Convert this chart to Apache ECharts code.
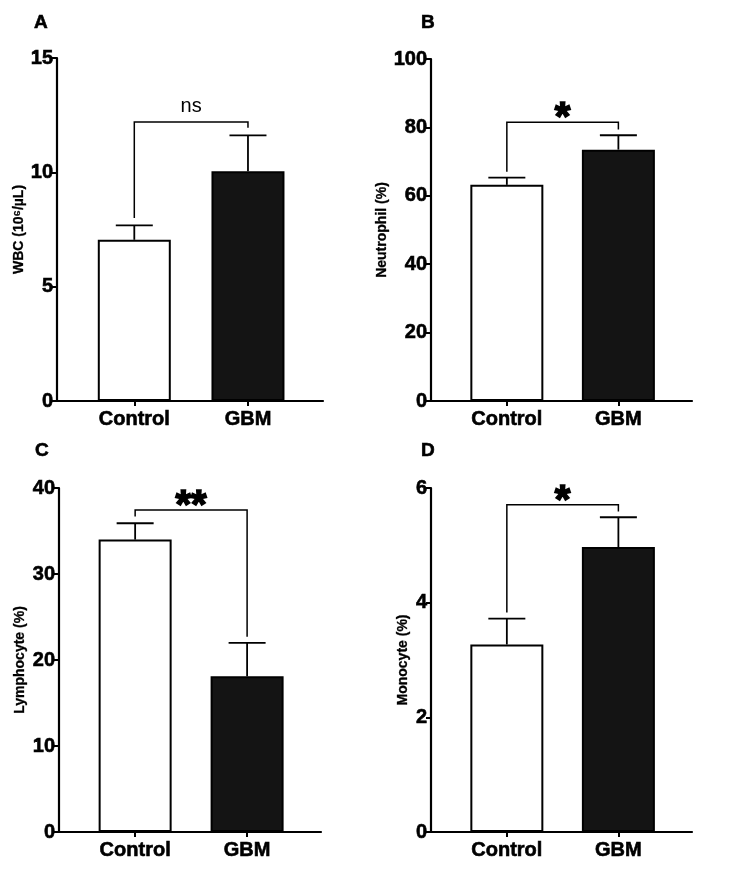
<!DOCTYPE html>
<html>
<head>
<meta charset="utf-8">
<script src="https://cdn.jsdelivr.net/npm/echarts@6/dist/echarts.min.js"></script>
<style>
  html, body { margin: 0; padding: 0; background: #fff; }
  #chart { width: 750px; height: 871px; }
</style>
</head>
<body>
<div id="chart"></div>
<script>
const GROUPS = ["Control", "GBM"];
const PANEL_LETTERS = ["A", "B", "C", "D"];
const Y_NAMES = ["WBC (10\u2076/\u00b5L)", "Neutrophil (%)", "Lymphocyte (%)", "Monocyte (%)"];
const Y_MAX = [15, 100, 40, 6];
const Y_INTERVAL = [5, 20, 10, 2];

// mean and SEM per group
const wbcMean = [7.05, 10.05];
const wbcSem = [0.63, 1.57];
const neutrophilMean = [63.2, 73.5];
const neutrophilSem = [2.1, 4.2];
const lymphocyteMean = [34.0, 18.1];
const lymphocyteSem = [1.9, 3.9];
const monocyteMean = [3.27, 4.97];
const monocyteSem = [0.45, 0.52];

// bracket: [height, left leg end, right leg end]
const wbcBracket = [12.2, 8.0, 11.95];
const neutrophilBracket = [81.5, 67.0, 79.4];
const lymphocyteBracket = [37.45, 36.7, 22.7];
const monocyteBracket = [5.71, 3.83, 5.59];
const SIG_LABELS = ["ns", "*", "**", "*"];

const MEANS = [wbcMean, neutrophilMean, lymphocyteMean, monocyteMean];
const SEMS = [wbcSem, neutrophilSem, lymphocyteSem, monocyteSem];
const BRACKETS = [wbcBracket, neutrophilBracket, lymphocyteBracket, monocyteBracket];

const FONT = "'Liberation Sans', Arial, Helvetica, sans-serif";
const GRIDS = [
  { left: 57, top: 58, width: 266, height: 343 },
  { left: 431, top: 59, width: 261, height: 342 },
  { left: 59, top: 488, width: 262, height: 344 },
  { left: 431, top: 488, width: 261, height: 344 },
];
const NAME_GAPS = [30, 41, 32, 21];
const LETTER_POS = [[34, 13], [421, 13], [35, 441], [421, 441]];
const X_MIN = 0.32;
const X_MAX = 2.66;
const CAP_HALF = 18.5;

// heavier text, like the original export
const HEAVY = { textBorderColor: "#000", textBorderWidth: 0.6 };

const chart = echarts.init(document.getElementById("chart"), null, { renderer: "canvas" });

const xAxes = GRIDS.map((_, i) => ({
  type: "value",
  gridIndex: i,
  min: X_MIN,
  max: X_MAX,
  splitLine: { show: false },
  axisLine: { show: true, onZero: false, lineStyle: { color: "#000", width: 2.2 } },
  axisTick: { show: true, customValues: [1, 2], length: 5, lineStyle: { color: "#000", width: 2 } },
  axisLabel: Object.assign({
    customValues: [1, 2],
    margin: 8,
    color: "#000",
    fontFamily: FONT,
    fontWeight: "bold",
    fontSize: 20,
    formatter: (v) => GROUPS[Math.round(v) - 1] || "",
  }, HEAVY),
}));

const yAxes = GRIDS.map((_, i) => ({
  type: "value",
  gridIndex: i,
  min: 0,
  max: Y_MAX[i],
  interval: Y_INTERVAL[i],
  name: Y_NAMES[i],
  nameLocation: "middle",
  nameRotate: 90,
  nameGap: NAME_GAPS[i],
  nameTextStyle: { color: "#000", fontFamily: FONT, fontWeight: "bold", fontSize: 14, textBorderColor: "#000", textBorderWidth: 0.3 },
  splitLine: { show: false },
  axisLine: { show: true, onZero: false, lineStyle: { color: "#000", width: 2.2 } },
  axisTick: { show: true, length: 5, lineStyle: { color: "#000", width: 2 } },
  axisLabel: Object.assign({ margin: 4, color: "#000", fontFamily: FONT, fontWeight: "bold", fontSize: 20 }, HEAVY),
}));

const series = [];

MEANS.forEach((mean, i) => {
  series.push({
    type: "bar",
    xAxisIndex: i,
    yAxisIndex: i,
    barWidth: 73,
    silent: true,
    data: mean.map((v, k) => ({
      value: [k + 1, v],
      itemStyle: {
        color: k === 0 ? "#fff" : "#141414",
        borderColor: "#000",
        borderWidth: 2,
      },
    })),
  });

  series.push({
    type: "custom",
    xAxisIndex: i,
    yAxisIndex: i,
    silent: true,
    z: 3,
    data: mean.map((v, k) => [k + 1, v, v + SEMS[i][k]]),
    renderItem: (params, api) => {
      const base = api.coord([api.value(0), api.value(1)]);
      const top = api.coord([api.value(0), api.value(2)]);
      const style = { stroke: "#000", lineWidth: 1.8 };
      return {
        type: "group",
        children: [
          { type: "line", shape: { x1: base[0], y1: base[1], x2: top[0], y2: top[1] }, style },
          { type: "line", shape: { x1: top[0] - CAP_HALF, y1: top[1], x2: top[0] + CAP_HALF, y2: top[1] }, style },
        ],
      };
    },
  });

  const sig = SIG_LABELS[i];
  const isNs = sig === "ns";
  series.push({
    type: "custom",
    xAxisIndex: i,
    yAxisIndex: i,
    silent: true,
    z: 3,
    data: [[1, 2].concat(BRACKETS[i])],
    renderItem: (params, api) => {
      const pLeft = api.coord([api.value(0), api.value(2)]);
      const pRight = api.coord([api.value(1), api.value(2)]);
      const legL = api.coord([api.value(0), api.value(3)]);
      const legR = api.coord([api.value(1), api.value(4)]);
      const style = { stroke: "#000", lineWidth: 1.5, fill: null };
      return {
        type: "group",
        children: [
          {
            type: "polyline",
            shape: { points: [legL, pLeft, pRight, legR] },
            style,
          },
          {
            type: "text",
            x: (pLeft[0] + pRight[0]) / 2,
            y: pLeft[1] - (isNs ? 16 : 3),
            style: {
              text: sig,
              fill: "#000",
              stroke: isNs ? null : "#000",
              lineWidth: isNs ? 0 : 1.6,
              fontFamily: FONT,
              fontWeight: isNs ? "normal" : "bold",
              fontSize: isNs ? 20 : 40,
              textAlign: "center",
              textVerticalAlign: "middle",
            },
          },
        ],
      };
    },
  });
});

chart.setOption({
  animation: false,
  backgroundColor: "#fff",
  title: PANEL_LETTERS.map((letter, i) => ({
    text: letter,
    left: LETTER_POS[i][0],
    top: LETTER_POS[i][1],
    padding: 0,
    textStyle: Object.assign({ color: "#000", fontFamily: FONT, fontWeight: "bold", fontSize: 19 }, HEAVY),
  })),
  grid: GRIDS.map((g) => Object.assign({ containLabel: false }, g)),
  xAxis: xAxes,
  yAxis: yAxes,
  series,
});
</script>
</body>
</html>
